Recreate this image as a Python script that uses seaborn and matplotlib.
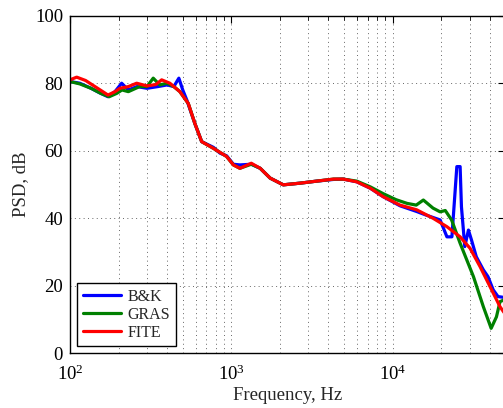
import numpy as np
import pandas as pd
import matplotlib
matplotlib.use("Agg")
import matplotlib.pyplot as plt
import seaborn as sns
from matplotlib.ticker import LogLocator, FixedLocator, NullFormatter

# ---- data ----
bk_freq = [100, 115, 135, 155, 172, 190, 209, 230, 260, 300, 350, 400, 440, 473, 500, 530,
           595, 655, 775, 850, 935, 1030, 1130, 1330, 1510, 1740, 2100, 2670, 3380, 4300,
           4940, 5990, 7270, 8730, 11100, 14100, 16000, 19700, 21700, 23300, 25000, 26200,
           26700, 28000, 29500, 30800, 33000, 36500, 39000, 42000, 45000, 50000]
bk_db = [80.5, 80.0, 78.5, 77.0, 76.0, 77.5, 80.0, 78.0, 79.0, 78.5, 79.0, 79.5, 79.0, 81.5, 78.0, 75.0,
         68.0, 62.7, 61.0, 59.3, 58.5, 56.0, 55.8, 56.0, 54.8, 51.9, 49.9, 50.4, 51.0, 51.5,
         51.6, 50.8, 48.9, 46.4, 43.7, 42.0, 41.0, 39.5, 34.5, 34.5, 55.3, 55.3,
         43.4, 31.6, 36.5, 33.6, 28.6, 24.7, 22.7, 18.8, 16.8, 16.5]

gras_freq = [100, 115, 135, 155, 175, 195, 210, 230, 270, 300, 328, 360, 400, 440, 480, 541,
             595, 655, 775, 935, 1030, 1130, 1330, 1510, 1740, 2100, 2670, 3380, 4300,
             4940, 5990, 7270, 8730, 10500, 12300, 14000, 15500, 17800, 19700, 21200, 23200,
             26200, 31700, 36500, 40800, 44000, 46300, 50000]
gras_db = [80.5, 79.8, 78.5, 77.0, 76.0, 77.0, 78.0, 77.5, 79.0, 79.0, 81.5, 79.5, 80.0, 79.0, 77.5, 74.0,
           68.0, 62.7, 60.7, 58.3, 55.8, 54.8, 56.0, 54.8, 51.9, 49.9, 50.4, 51.0, 51.6,
           51.6, 51.0, 49.3, 47.3, 45.5, 44.4, 43.9, 45.4, 43.0, 41.9, 42.3, 39.5,
           32.6, 22.7, 13.8, 7.4, 10.8, 15.3, 16.0]

fite_freq = [100, 110, 125, 145, 172, 190, 204, 230, 259, 300, 340, 370, 416, 480, 541,
             595, 655, 775, 935, 1030, 1130, 1330, 1510, 1740, 2100, 2670, 3380, 4300,
             4940, 5990, 7270, 8730, 11100, 14100, 17800, 21700, 26200, 30200, 34800,
             40200, 46300, 50000]
fite_db = [81.0, 81.8, 80.8, 78.8, 76.5, 77.5, 78.5, 79.0, 80.0, 79.2, 79.6, 81.0, 80.0, 77.5, 74.0,
           68.0, 62.7, 60.7, 58.3, 55.8, 54.8, 56.3, 54.8, 51.9, 49.9, 50.4, 51.0, 51.6,
           51.6, 50.8, 48.9, 46.4, 43.9, 42.5, 40.0, 37.5, 34.5, 31.1, 25.7,
           19.7, 13.8, 11.5]

series_names = ["B&K", "GRAS", "FITE"]
series_colors = ["#0000ff", "#008000", "#ff0000"]
y_ticks = [0, 20, 40, 60, 80, 100]

frames = []
for name, f, d in zip(series_names, [bk_freq, gras_freq, fite_freq], [bk_db, gras_db, fite_db]):
    frames.append(pd.DataFrame({"freq": f, "psd": d, "sensor": name}))
df = pd.concat(frames, ignore_index=True)

# ---- style ----
sns.set_style("white")
plt.rcParams["font.family"] = ["Liberation Serif", "DejaVu Serif"]
plt.rcParams["mathtext.fontset"] = "custom"
plt.rcParams["mathtext.rm"] = "Liberation Serif"
plt.rcParams["mathtext.it"] = "Liberation Serif:italic"

fig = plt.figure(figsize=(5.03, 4.08), dpi=100)
ax = fig.add_axes([70 / 503, 54.7 / 408, 435.4 / 503, 337.6 / 408])

sns.lineplot(data=df, x="freq", y="psd", hue="sensor", hue_order=series_names,
             palette=series_colors, estimator=None, linewidth=2.3, ax=ax)

ax.set_xscale("log")
ax.set_xlim(100, 50000)
ax.set_ylim(0, 100)
ax.yaxis.set_major_locator(FixedLocator(y_ticks))
ax.xaxis.set_major_locator(LogLocator(base=10, numticks=10))
ax.xaxis.set_minor_locator(LogLocator(base=10, subs=np.arange(2, 10), numticks=20))
ax.xaxis.set_minor_formatter(NullFormatter())

ax.grid(True, which="major", axis="both", linestyle=(0, (1, 3.5)), color="0.4", linewidth=0.7)
ax.grid(True, which="minor", axis="x", linestyle=(0, (1, 3.5)), color="0.4", linewidth=0.7)

ax.tick_params(which="both", direction="in", top=True, right=True, labelsize=13.5, colors="black")
ax.tick_params(which="major", length=5, width=0.8, pad=5)
ax.tick_params(which="minor", length=3, width=0.6)
ax.tick_params(axis="x", which="major", pad=8)
for s in ax.spines.values():
    s.set_color("black")
    s.set_linewidth(1.0)

ax.set_xlabel("Frequency, Hz", fontsize=13.5, labelpad=2)
ax.set_ylabel("PSD, dB", fontsize=13.5, labelpad=4)

leg = ax.legend(loc="lower left", fontsize=11.5, frameon=True, fancybox=False,
                edgecolor="black", framealpha=1, handlelength=2.4, borderaxespad=0.45,
                labelspacing=0.12, handletextpad=0.4, borderpad=0.35)
leg.get_frame().set_linewidth(1.0)
for line in leg.get_lines():
    line.set_linewidth(2.3)

fig.savefig("out.png", dpi=100)
